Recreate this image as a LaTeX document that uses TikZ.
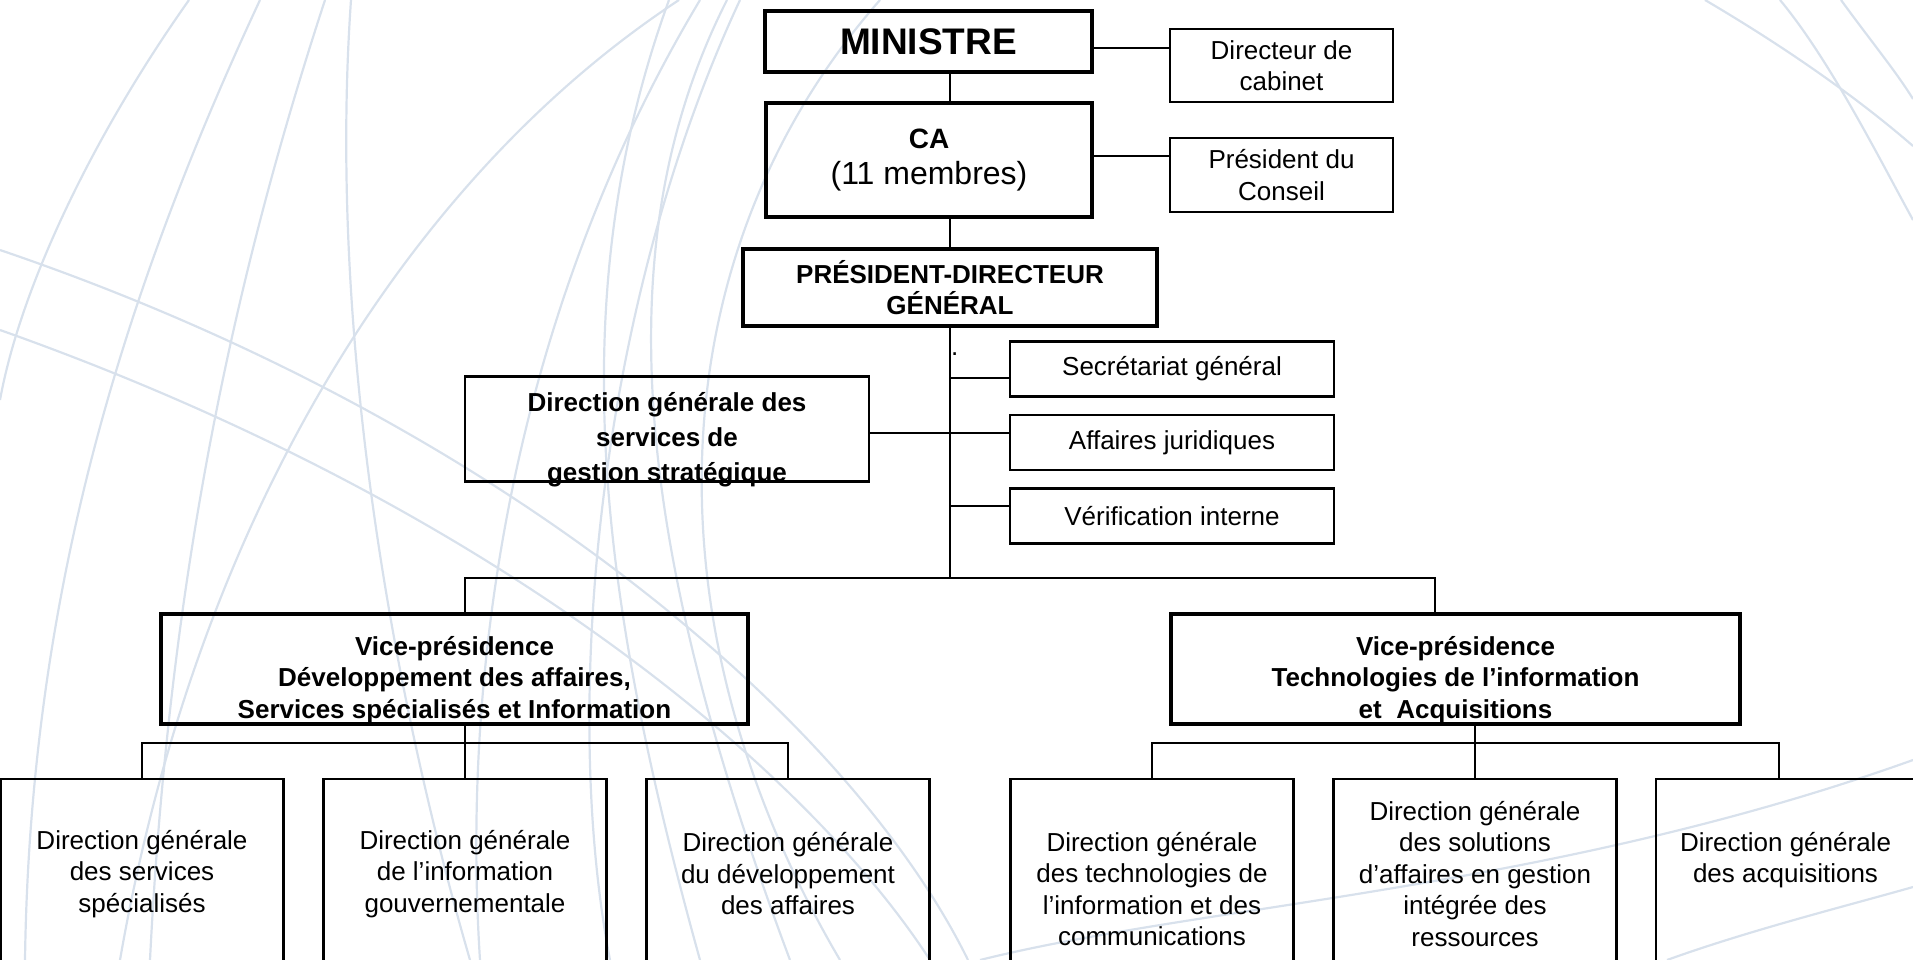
\documentclass[tikz,border=0pt]{standalone}
\usepackage{fontspec}
\setmainfont{Liberation Sans}
\usetikzlibrary{positioning}
\definecolor{globe}{RGB}{216,225,236}
\newcommand{\padtop}[1]{\rule{0pt}{#1}}
\newcommand{\paddown}[1]{\rule[-#1]{0pt}{0pt}}

\begin{document}
\begin{tikzpicture}[x=1pt, y=-1pt, node distance=73.5pt and 323pt, on grid,
    box/.style={draw, line width=2.2pt, inner sep=0pt, align=center, font=\fontsize{26}{31.5}\selectfont},
    bigbox/.style={box, line width=4.6pt, font=\fontsize{26}{31.5}\selectfont\bfseries},
    unitbox/.style={box, minimum width=324pt, minimum height=55pt},
    dirbox/.style={box, minimum width=283pt, minimum height=190pt},
    link/.style={line width=2pt}]
	\useasboundingbox (0,0) rectangle (1913,960);
	% background swirls
	\begin{scope}[draw=globe, line width=2.2pt]
		\draw (189,0) .. controls (90,140) and (20,290) .. (0,400);
		\draw (260,0) .. controls (120,300) and (30,600) .. (25,960);
		\draw (325,0) .. controls (240,260) and (170,560) .. (150,960);
		\draw (351,0) .. controls (330,300) and (380,650) .. (470,960);
		\draw (679,0) .. controls (420,170) and (200,500) .. (120,960);
		\draw (669,0) .. controls (560,300) and (600,600) .. (700,960);
		\draw (727,0) .. controls (600,250) and (640,560) .. (790,960);
		\draw (700,0) .. controls (520,300) and (460,650) .. (480,960);
		\draw (740,0) .. controls (600,300) and (560,700) .. (610,960);
		\draw (880,0) .. controls (660,250) and (640,620) .. (840,960);
		\draw (0,250) .. controls (500,420) and (850,720) .. (968,960);
		\draw (0,330) .. controls (480,500) and (800,760) .. (930,960);
		\draw (980,960) .. controls (1200,905) and (1550,890) .. (1913,760);
		\draw (1667,960) .. controls (1750,930) and (1850,905) .. (1913,887);
		\draw (1705,0) .. controls (1790,50) and (1860,100) .. (1913,146);
		\draw (1841,0) .. controls (1870,40) and (1895,70) .. (1913,99);
		\draw (1780,0) .. controls (1830,60) and (1880,160) .. (1913,220);
	\end{scope}
	% top of the chart
	\node[bigbox, minimum width=327pt, minimum height=61pt, font=\fontsize{37}{44}\selectfont\bfseries] (min) at (928.5,41.5) {MINISTRE};
	\node[box, minimum width=223pt, minimum height=73pt] (cab) at (1281.5,65.5) {Directeur de\\cabinet};
	\node[bigbox, minimum width=326pt, minimum height=114pt, font=\fontsize{28}{36}\selectfont] (ca) at (929,160) {\textbf{CA}\\{\fontsize{32}{36}\selectfont(11 membres)}};
	\node[box, minimum width=223pt, minimum height=74pt] (pres) at (1281.5,175) {Président du\\Conseil};
	\node[bigbox, minimum width=414pt, minimum height=77pt] (pdg) at (950,287.5) {PRÉSIDENT-DIRECTEUR\\GÉNÉRAL};
	\node[inner sep=0pt, anchor=base west, font=\fontsize{26}{31.5}\selectfont] (dot) at (951,355) {.};
	% staff units
	\node[unitbox] (sg) at (1172,369) {Secrétariat général};
	\node[unitbox] (aj) [below=of sg] {Affaires juridiques};
	\node[unitbox] (vi) [below=of aj] {Vérification interne};
	\node[box, minimum width=404pt, minimum height=104pt, font=\fontsize{26}{35}\selectfont\bfseries] (dgs) at (667,429) {\padtop{35pt}Direction générale des\\services de\\\smash{gestion stratégique}};
	% vice-presidencies
	\node[bigbox, minimum width=587pt, minimum height=110pt] (vp1) at (454.5,669) {\padtop{41pt}Vice-présidence\\Développement des affaires,\\Services spécialisés et Information};
	\node[bigbox, minimum width=569pt, minimum height=110pt] (vp2) at (1455.5,669) {\padtop{41pt}Vice-présidence\\Technologies de l’information\\et\ \ Acquisitions};
	% general directions
	\node[dirbox] (dss) at (142,874) {Direction générale\\des services\\spécialisés};
	\node[dirbox] (dig) [right=of dss] {Direction générale\\de l’information\\gouvernementale};
	\node[dirbox] (dda) [right=of dig] {Direction générale\\du développement\\des affaires};
	\node[dirbox] (dti) at (1152,874) {\padtop{49pt}Direction générale\\des technologies de\\l’information et des\\communications};
	\node[dirbox] (dsg) [right=of dti] {Direction générale\\des solutions\\d’affaires en gestion\\intégrée des\\ressources};
	\node[dirbox, minimum width=259pt] (dac) at (1785.5,874) {Direction générale\\des acquisitions\paddown{33.5pt}};
	% links
	\coordinate (bl) at (465,578);
	\coordinate (br) at (1435,578);
	\coordinate (sb1) at (465,743);
	\coordinate (sb2) at (1475,743);
	\draw[link] (min.south -| pdg.north) -- (ca.north -| pdg.north);
	\draw[link] (ca.south -| pdg.north) -- (pdg.north);
	\draw[link] ([yshift=-6.5pt]min.east) -- ([yshift=-6.5pt]min.east -| cab.west);
	\draw[link] ([yshift=4pt]ca.east) -- ([yshift=4pt]ca.east -| pres.west);
	\draw[link] (pdg.south) -- (pdg.south |- bl);
	\draw[link] ([yshift=-9pt]sg.west) -- ([yshift=-9pt]sg.west -| pdg.south);
	\draw[link] ([yshift=-4pt]dgs.east) -- ([yshift=-4pt]dgs.east -| aj.west);
	\draw[link] ([yshift=10pt]vi.west) -- ([yshift=10pt]vi.west -| pdg.south);
	\draw[link] (bl |- vp1.north) -- (bl) -- (br) -- (br |- vp2.north);
	\draw[link] (vp1.south -| sb1) -- (dig.north);
	\draw[link] (dss.north) |- (sb1) -| (dda.north);
	\draw[link] (vp2.south -| sb2) -- (dsg.north);
	\draw[link] (dti.north) |- (sb2) -| ([xshift=-7pt]dac.north);
\end{tikzpicture}
\end{document}
